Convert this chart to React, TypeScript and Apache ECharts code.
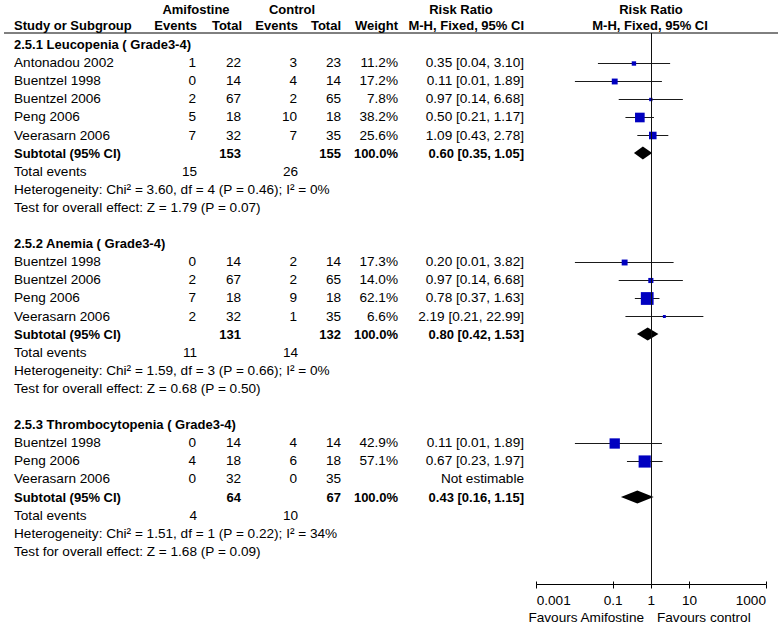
import React, { useEffect, useRef } from 'react';
import * as echarts from 'echarts';

const FONT = '"Liberation Sans", Arial, Helvetica, sans-serif';
const FS = 13.6;
const FS_BOLD = 13;

// ---------- data ----------
const subgroupTitles = ['2.5.1 Leucopenia ( Grade3-4)', '2.5.2 Anemia ( Grade3-4)', '2.5.3 Thrombocytopenia ( Grade3-4)'];

const leuStudies = ['Antonadou 2002', 'Buentzel 1998', 'Buentzel 2006', 'Peng 2006', 'Veerasarn 2006'];
const leuAmiEvents = [1, 0, 2, 5, 7];
const leuAmiTotal = [22, 14, 67, 18, 32];
const leuCtrlEvents = [3, 4, 2, 10, 7];
const leuCtrlTotal = [23, 14, 65, 18, 35];
const leuWeight = [11.2, 17.2, 7.8, 38.2, 25.6];
const leuRR = [0.35, 0.11, 0.97, 0.5, 1.09];
const leuLo = [0.04, 0.01, 0.14, 0.21, 0.43];
const leuHi = [3.1, 1.89, 6.68, 1.17, 2.78];

const anaStudies = ['Buentzel 1998', 'Buentzel 2006', 'Peng 2006', 'Veerasarn 2006'];
const anaAmiEvents = [0, 2, 7, 2];
const anaAmiTotal = [14, 67, 18, 32];
const anaCtrlEvents = [2, 2, 9, 1];
const anaCtrlTotal = [14, 65, 18, 35];
const anaWeight = [17.3, 14.0, 62.1, 6.6];
const anaRR = [0.2, 0.97, 0.78, 2.19];
const anaLo = [0.01, 0.14, 0.37, 0.21];
const anaHi = [3.82, 6.68, 1.63, 22.99];

const thrStudies = ['Buentzel 1998', 'Peng 2006', 'Veerasarn 2006'];
const thrAmiEvents = [0, 4, 0];
const thrAmiTotal = [14, 18, 32];
const thrCtrlEvents = [4, 6, 0];
const thrCtrlTotal = [14, 18, 35];
const thrWeight = [42.9, 57.1, null];
const thrRR = [0.11, 0.67, null];
const thrLo = [0.01, 0.23, null];
const thrHi = [1.89, 1.97, null];

const subAmiTotal = [153, 131, 64];
const subCtrlTotal = [155, 132, 67];
const subWeight = [100.0, 100.0, 100.0];
const subRR = [0.6, 0.8, 0.43];
const subLo = [0.35, 0.42, 0.16];
const subHi = [1.05, 1.53, 1.15];
const totalEventsAmi = [15, 11, 4];
const totalEventsCtrl = [26, 14, 10];
const hetChi2 = [3.6, 1.59, 1.51];
const hetDf = [4, 3, 1];
const hetP = [0.46, 0.66, 0.22];
const hetI2 = [0, 0, 34];
const zValue = [1.79, 0.68, 1.68];
const zP = [0.07, 0.5, 0.09];

const tickValues = [0.001, 0.1, 1, 10, 1000];
const tickLabels = ['0.001', '0.1', '1', '10', '1000'];

// ---------- layout constants ----------
const ROW0 = 44.5;
const PITCH = 18.1;
const GRID_TOP = 33;
const AXIS_Y = 584.5;
const PLOT_L = 536.7;
const PLOT_R = 766;
const W = 782;
const H = 625;

const X_STUDY = 14;
const X_EV1 = 196;
const X_TOT1 = 241;
const X_EV2 = 297;
const X_TOT2 = 341;
const X_W = 398;
const X_CI = 524;

type Cell = { text: string; x: number; align: 'left' | 'right' | 'center'; bold?: boolean };

const groups = [
  { studies: leuStudies, ae: leuAmiEvents, at: leuAmiTotal, ce: leuCtrlEvents, ct: leuCtrlTotal, w: leuWeight, rr: leuRR, lo: leuLo, hi: leuHi },
  { studies: anaStudies, ae: anaAmiEvents, at: anaAmiTotal, ce: anaCtrlEvents, ct: anaCtrlTotal, w: anaWeight, rr: anaRR, lo: anaLo, hi: anaHi },
  { studies: thrStudies, ae: thrAmiEvents, at: thrAmiTotal, ce: thrCtrlEvents, ct: thrCtrlTotal, w: thrWeight, rr: thrRR, lo: thrLo, hi: thrHi },
];

const f2 = (v: number) => v.toFixed(2);
const ciText = (r: number, l: number, h: number) => `${f2(r)} [${f2(l)}, ${f2(h)}]`;

const textRows: Cell[][] = [];
const studyMarks: number[][] = [];
const diamonds: number[][] = [];

groups.forEach((g, gi) => {
  textRows.push([{ text: subgroupTitles[gi], x: X_STUDY, align: 'left', bold: true }]);
  g.studies.forEach((s, si) => {
    const row = textRows.length;
    const rr = g.rr[si];
    const cells: Cell[] = [
      { text: s, x: X_STUDY, align: 'left' },
      { text: String(g.ae[si]), x: X_EV1, align: 'right' },
      { text: String(g.at[si]), x: X_TOT1, align: 'right' },
      { text: String(g.ce[si]), x: X_EV2, align: 'right' },
      { text: String(g.ct[si]), x: X_TOT2, align: 'right' },
    ];
    if (rr != null) {
      cells.push({ text: (g.w[si] as number).toFixed(1) + '%', x: X_W, align: 'right' });
      cells.push({ text: ciText(rr, g.lo[si] as number, g.hi[si] as number), x: X_CI, align: 'right' });
      studyMarks.push([Math.log10(g.lo[si] as number), Math.log10(g.hi[si] as number), Math.log10(rr), row, g.w[si] as number]);
    } else {
      cells.push({ text: 'Not estimable', x: X_CI, align: 'right' });
    }
    textRows.push(cells);
  });
  const subRow = textRows.length;
  textRows.push([
    { text: 'Subtotal (95% CI)', x: X_STUDY, align: 'left', bold: true },
    { text: String(subAmiTotal[gi]), x: X_TOT1, align: 'right', bold: true },
    { text: String(subCtrlTotal[gi]), x: X_TOT2, align: 'right', bold: true },
    { text: subWeight[gi].toFixed(1) + '%', x: X_W, align: 'right', bold: true },
    { text: ciText(subRR[gi], subLo[gi], subHi[gi]), x: X_CI, align: 'right', bold: true },
  ]);
  diamonds.push([Math.log10(subLo[gi]), Math.log10(subHi[gi]), Math.log10(subRR[gi]), subRow]);
  textRows.push([
    { text: 'Total events', x: X_STUDY, align: 'left' },
    { text: String(totalEventsAmi[gi]), x: X_EV1 + 1, align: 'right' },
    { text: String(totalEventsCtrl[gi]), x: X_EV2 + 1, align: 'right' },
  ]);
  textRows.push([
    {
      text: `Heterogeneity: Chi² = ${f2(hetChi2[gi])}, df = ${hetDf[gi]} (P = ${f2(hetP[gi])}); I² = ${hetI2[gi]}%`,
      x: X_STUDY,
      align: 'left',
    },
  ]);
  textRows.push([{ text: `Test for overall effect: Z = ${f2(zValue[gi])} (P = ${f2(zP[gi])})`, x: X_STUDY, align: 'left' }]);
  if (gi < groups.length - 1) textRows.push([]);
});

const Y_MIN = (GRID_TOP - ROW0) / PITCH;
const Y_MAX = (AXIS_Y - ROW0) / PITCH;
const tickLog = tickValues.map((v) => Math.round(Math.log10(v) * 1e6) / 1e6);

const labelFor = (v: number) => {
  const i = tickLog.findIndex((t) => Math.abs(t - v) < 1e-6);
  return i >= 0 ? tickLabels[i] : '';
};

const hText = (text: string, x: number, y: number, align: string, bold = true) => ({
  type: 'text',
  x,
  y,
  silent: true,
  style: {
    text,
    fill: '#000',
    fontSize: bold ? FS_BOLD : FS,
    fontFamily: FONT,
    fontWeight: bold ? 'bold' : 'normal',
    align,
    verticalAlign: 'middle',
  },
});

export default function App() {
  const ref = useRef<HTMLDivElement>(null);
  useEffect(() => {
    if (!ref.current) return;
    const chart = echarts.init(ref.current, undefined, { renderer: 'svg' });
    const option: any = {
      animation: false,
      backgroundColor: '#fff',
      grid: { left: PLOT_L, right: W - PLOT_R, top: GRID_TOP, bottom: H - AXIS_Y, containLabel: false },
      xAxis: [
        {
          type: 'value',
          min: -3,
          max: 3,
          position: 'bottom',
          axisLine: { show: true, onZero: false, lineStyle: { color: '#000', width: 1 } },
          axisTick: { show: true, customValues: tickLog, length: 4, lineStyle: { color: '#000', width: 1 } },
          axisLabel: {
            customValues: tickLog,
            formatter: (v: number) => labelFor(v),
            color: '#000',
            fontSize: FS,
            fontFamily: FONT,
            margin: 9,
            alignMinLabel: 'left',
            alignMaxLabel: 'right',
          },
          splitLine: { show: false },
        },
        {
          type: 'value',
          min: -3,
          max: 3,
          position: 'bottom',
          gridIndex: 0,
          axisLine: { show: false, onZero: false },
          axisTick: { show: true, inside: true, customValues: tickLog, length: 3, lineStyle: { color: '#000', width: 1 } },
          axisLabel: { show: false },
          splitLine: { show: false },
        },
      ],
      yAxis: { type: 'value', min: Y_MIN, max: Y_MAX, inverse: true, show: false },
      series: [
        {
          type: 'custom',
          name: 'studies',
          silent: true,
          clip: false,
          encode: { x: [0, 1, 2], y: 3 },
          data: studyMarks,
          renderItem: (_p: any, api: any) => {
            const lo = api.coord([api.value(0), api.value(3)]);
            const hi = api.coord([api.value(1), api.value(3)]);
            const c = api.coord([api.value(2), api.value(3)]);
            const side = Math.max(2.5, 1.85 * Math.sqrt(api.value(4)) - 1.8);
            const y = Math.round(c[1]) + 0.5;
            return {
              type: 'group',
              children: [
                { type: 'line', shape: { x1: lo[0], y1: y, x2: hi[0], y2: y }, style: { stroke: '#1a1a1a', lineWidth: 1 } },
                { type: 'rect', shape: { x: c[0] - side / 2, y: y - side / 2, width: side, height: side }, style: { fill: '#0000C0' } },
              ],
            };
          },
          markLine: {
            silent: true,
            symbol: ['none', 'none'],
            label: { show: false },
            lineStyle: { color: '#111', type: 'solid', width: 1 },
            data: [{ xAxis: 0 }],
          },
        },
        {
          type: 'custom',
          name: 'subtotals',
          silent: true,
          clip: false,
          encode: { x: [0, 1, 2], y: 3 },
          data: diamonds,
          renderItem: (_p: any, api: any) => {
            const lo = api.coord([api.value(0), api.value(3)]);
            const hi = api.coord([api.value(1), api.value(3)]);
            const c = api.coord([api.value(2), api.value(3)]);
            const h = 6.5;
            return {
              type: 'polygon',
              shape: { points: [[lo[0], c[1]], [c[0], c[1] - h], [hi[0], c[1]], [c[0], c[1] + h]] },
              style: { fill: '#000' },
            };
          },
        },
        {
          type: 'custom',
          name: 'table',
          silent: true,
          clip: false,
          encode: { x: 0, y: 1 },
          data: textRows.map((_r, i) => [0, i]),
          renderItem: (p: any, api: any) => {
            const y = api.coord([0, api.value(1)])[1];
            const cells = textRows[p.dataIndex];
            return {
              type: 'group',
              children: cells.map((c) => ({
                type: 'text',
                x: c.x,
                y,
                style: {
                  text: c.text,
                  fill: '#000',
                  fontSize: c.bold ? FS_BOLD : FS,
                  fontFamily: FONT,
                  fontWeight: c.bold ? 'bold' : 'normal',
                  align: c.align,
                  verticalAlign: 'middle',
                },
              })),
            };
          },
        },
      ],
      graphic: {
        elements: [
          hText('Amifostine', 196, 9, 'center'),
          hText('Control', 292, 9, 'center'),
          hText('Risk Ratio', 461, 9, 'center'),
          hText('Risk Ratio', 651, 9, 'center'),
          hText('Study or Subgroup', X_STUDY, 25, 'left'),
          hText('Events', X_EV1 + 1, 25, 'right'),
          hText('Total', X_TOT1 + 1, 25, 'right'),
          hText('Events', X_EV2 + 1, 25, 'right'),
          hText('Total', X_TOT2, 25, 'right'),
          hText('Weight', X_W, 25, 'right'),
          hText('M-H, Fixed, 95% CI', X_CI, 25, 'right'),
          hText('M-H, Fixed, 95% CI', 650, 25, 'center'),
          {
            type: 'line',
            silent: true,
            shape: { x1: 4, y1: GRID_TOP, x2: 778, y2: GRID_TOP },
            style: { stroke: '#000', lineWidth: 1 },
          },
          hText('Favours Amifostine', 644, 617, 'right', false),
          hText('Favours control', 657, 617, 'left', false),
        ],
      },
    };
    chart.setOption(option);
    return () => chart.dispose();
  }, []);
  return <div ref={ref} style={{ position: 'fixed', left: 0, top: 0, width: W, height: H, background: '#fff' }} />;
}
